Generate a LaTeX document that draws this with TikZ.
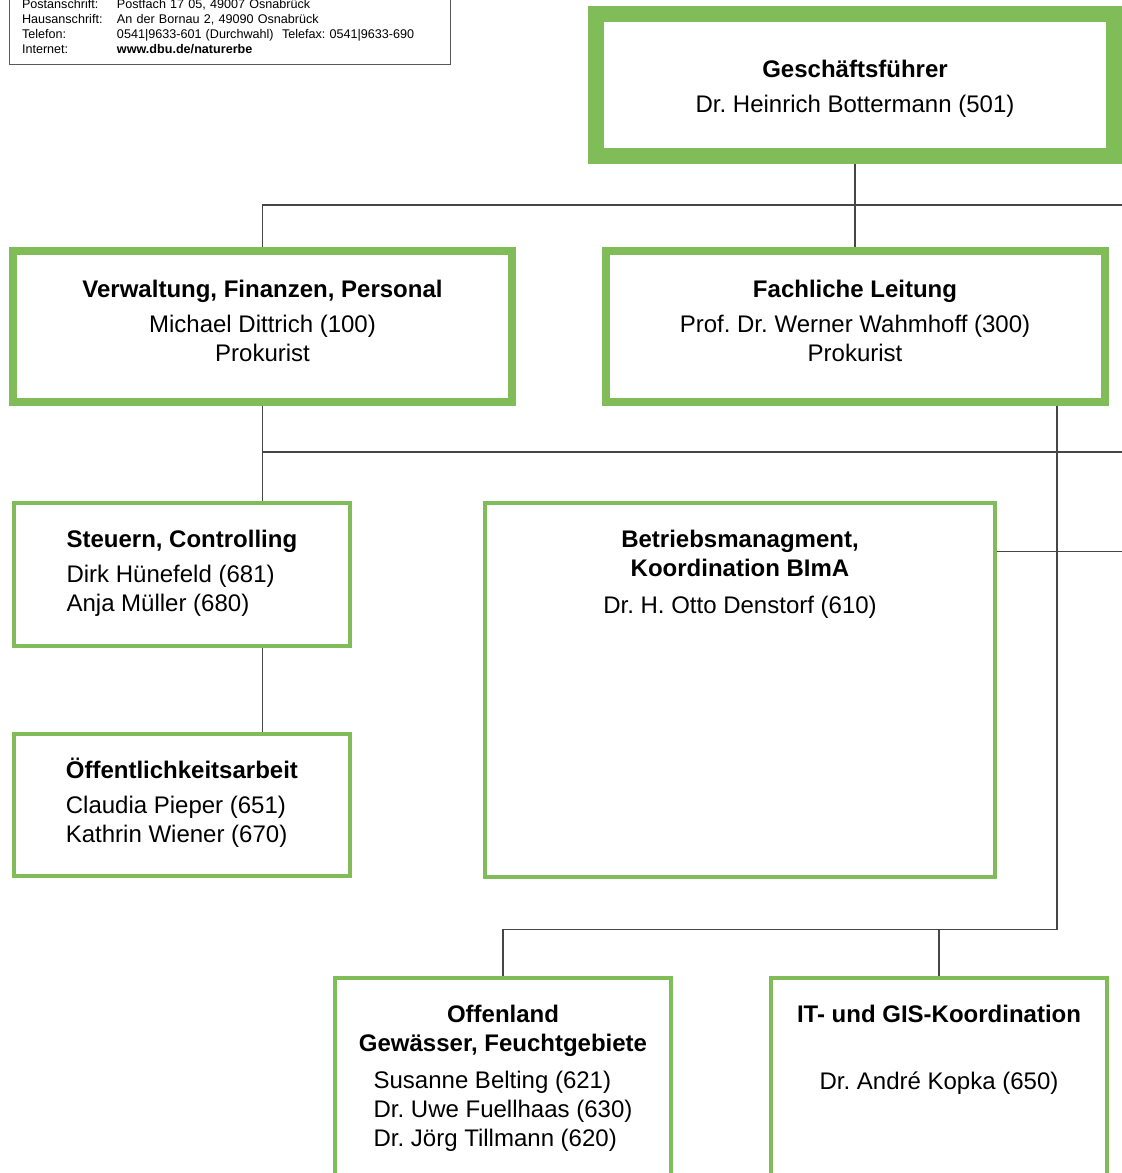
\documentclass[tikz,border=0pt]{standalone}
\usepackage{fontspec}
\setmainfont{Liberation Sans}
\usepackage{tikz}
\usetikzlibrary{positioning, calc}
\usepackage{xcolor}

\definecolor{dbugruen}{RGB}{128,188,88}
\definecolor{liniengrau}{RGB}{70,70,70}

\tikzset{
  fuehrung/.style={draw=dbugruen, line width=16pt, fill=white, inner sep=0pt},
  leitung/.style={fuehrung, line width=8pt},
  referat/.style={fuehrung, line width=4pt, minimum width=335.5pt},
  txt/.style={inner sep=0pt, font=\fontsize{24}{29}\selectfont},
  verbindung/.style={draw=liniengrau, line width=1.4pt},
  anschrift/.style={draw=black!65, line width=1pt, fill=white, inner xsep=12.5pt,
    inner ysep=7pt, text width=416pt, align=left, font=\fontsize{12.6}{14.8}\selectfont}
}
\frenchspacing

\begin{document}
\begin{tikzpicture}[x=1pt, y=-1pt]
  \path[use as bounding box] (0,0) rectangle (1122,1173);
  \clip (0,0) rectangle (1122,1173);
  \fill[white] (0,0) rectangle (1122,1173);

  \coordinate (rand-a) at (1122,205);
  \coordinate (rand-b) at (1122,452);
  \coordinate (rand-c) at (1122,551.7);
  \coordinate (knick) at (1057,929.3);

  % Kopf
  \node[anschrift, anchor=south west] (anschrift) at (9,65) {%
    \begin{tabular}{@{}p{95pt}@{}l@{}}
      Postanschrift: & Postfach 17 05, 49007 Osnabrück\\
      Hausanschrift: & An der Bornau 2, 49090 Osnabrück\\
      Telefon: & 0541|9633-601 (Durchwahl)\ \ Telefax: 0541|9633-690\\
      Internet: & \textbf{www.dbu.de/naturerbe}
    \end{tabular}};

  % Kaesten
  \node[fuehrung, minimum width=518pt, minimum height=142pt] (gf) at (855,85) {};
  \node[leitung, minimum width=499pt, minimum height=150.5pt] (verw) at (262.5,326.3) {};
  \node[leitung, minimum width=499pt, minimum height=150.5pt] (fach) at (855,326.3) {};
  \node[referat, minimum height=143pt] (steuern) at (181.9,574.5) {};
  \node[referat, minimum height=142pt] (oeff) at (181.9,805) {};
  \node[referat, minimum width=509.4pt, minimum height=374pt] (betrieb) at (740,690) {};
  \node[referat, minimum height=300pt] (offen) at (503,1128) {};
  \node[referat, minimum height=300pt] (it) at (939,1128) {};

  % Linien
  \draw[verbindung] (verw.north) |- (rand-a);
  \draw[verbindung] (gf.south) -- (fach.north);
  \draw[verbindung] (verw.south) -- (verw.south |- steuern.north);
  \draw[verbindung] (verw.south |- rand-b) -- (rand-b);
  \draw[verbindung] (steuern.south -| verw.south) -- (oeff.north -| verw.south);
  \draw[verbindung] (betrieb.east |- rand-c) -- (rand-c);
  \draw[verbindung] (fach.south -| knick) -- (knick) -| (offen.north);
  \draw[verbindung] (it.north) -- (it.north |- knick);

  % Texte
  \node[txt, align=center, below=54pt of gf.north] (gf-text)
    {\textbf{Geschäftsführer}\\[6pt] Dr. Heinrich Bottermann (501)};
  \node[txt, align=center, below=33pt of verw.north] (verw-text)
    {\textbf{Verwaltung, Finanzen, Personal}\\[6pt] Michael Dittrich (100)\\ Prokurist};
  \node[txt, align=center, below=33pt of fach.north] (fach-text)
    {\textbf{Fachliche Leitung}\\[6pt] Prof. Dr. Werner Wahmhoff (300)\\ Prokurist};
  \node[txt, align=left, below=29pt of steuern.north] (steuern-text)
    {\textbf{Steuern, Controlling}\\[6pt] Dirk Hünefeld (681)\\ Anja Müller (680)};
  \node[txt, align=left, below=26pt of oeff.north] (oeff-text)
    {\textbf{Öffentlichkeitsarbeit}\\[6pt] Claudia Pieper (651)\\ Kathrin Wiener (670)};
  \node[txt, align=center, below=29pt of betrieb.north] (betrieb-text)
    {\textbf{Betriebsmanagment,}\\ \textbf{Koordination BImA}\\[8pt] Dr. H. Otto Denstorf (610)};
  \node[txt, align=center, below=29pt of offen.north] (offen-titel)
    {\textbf{Offenland}\\ \textbf{Gewässer, Feuchtgebiete}};
  \node[txt, align=left, below=14.5pt of offen-titel] (offen-namen)
    {Susanne Belting (621)\\ Dr. Uwe Fuellhaas (630)\\ Dr. Jörg Tillmann (620)};
  \node[txt, align=center, below=29pt of it.north] (it-text)
    {\textbf{IT- und GIS-Koordination}\\[38pt] Dr. André Kopka (650)};
\end{tikzpicture}
\end{document}
